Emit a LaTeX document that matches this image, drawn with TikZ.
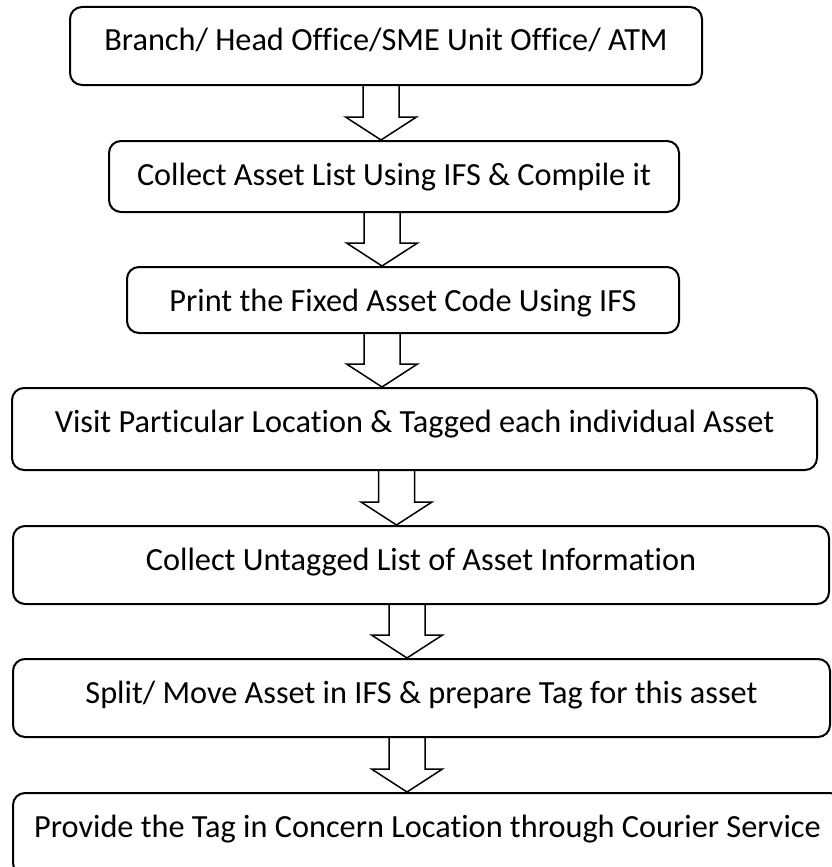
\documentclass[tikz,border=0pt]{standalone}
\usepackage{fontspec}
\setmainfont[Ligatures=NoCommon]{Carlito}
\usetikzlibrary{calc}
\newcommand\blockarr[3]{%
  \draw[barrow] let \p1=(#1.south), \p2=(#2.north) in
    ({#3pt-18pt},\y1) -- ({#3pt-18pt},{\y2+23pt}) -- ({#3pt-35.5pt},{\y2+23pt})
    -- (#3pt,\y2) -- ({#3pt+35.5pt},{\y2+23pt}) -- ({#3pt+18pt},{\y2+23pt})
    -- ({#3pt+18pt},\y1);
}
\begin{document}
\begin{tikzpicture}[x=1pt,y=-1pt,
  box/.style={draw, line width=2pt, rounded corners=12pt, inner xsep=0pt, inner ysep=0pt,
    text height=44pt, font=\fontsize{32.3}{38}\selectfont},
  barrow/.style={draw, line width=1.5pt, line join=miter}]
\useasboundingbox (0,0) rectangle (831,867);
\node[box, minimum width=632pt, minimum height=78pt, text depth=34pt] (b1) at (386,46)
  {Branch/ Head Office/SME Unit Office/ ATM};
\node[box, minimum width=570pt, minimum height=71pt, text depth=27pt] (b2) at (394,176.5)
  {Collect Asset List Using IFS \& Compile it};
\node[box, minimum width=552pt, minimum height=66pt, text depth=22pt] (b3) at (403,300)
  {Print the Fixed Asset Code Using IFS};
\node[box, minimum width=805pt, minimum height=82pt, text depth=38pt] (b4) at (414.5,429)
  {Visit Particular Location \& Tagged each individual Asset};
\node[box, minimum width=816pt, minimum height=78pt, text depth=34pt] (b5) at (421,565)
  {Collect Untagged List of Asset Information};
\node[box, minimum width=817pt, minimum height=78pt, text depth=34pt] (b6) at (421.5,698)
  {Split/ Move Asset in IFS \& prepare Tag for this asset};
\node[box, minimum width=829pt, minimum height=82pt, text depth=38pt] (b7) at (427.5,834)
  {Provide the Tag in Concern Location through Courier Service};
\blockarr{b1}{b2}{381}
\blockarr{b2}{b3}{382}
\blockarr{b3}{b4}{382}
\blockarr{b4}{b5}{396.5}
\blockarr{b5}{b6}{407}
\blockarr{b6}{b7}{407}
\end{tikzpicture}
\end{document}
